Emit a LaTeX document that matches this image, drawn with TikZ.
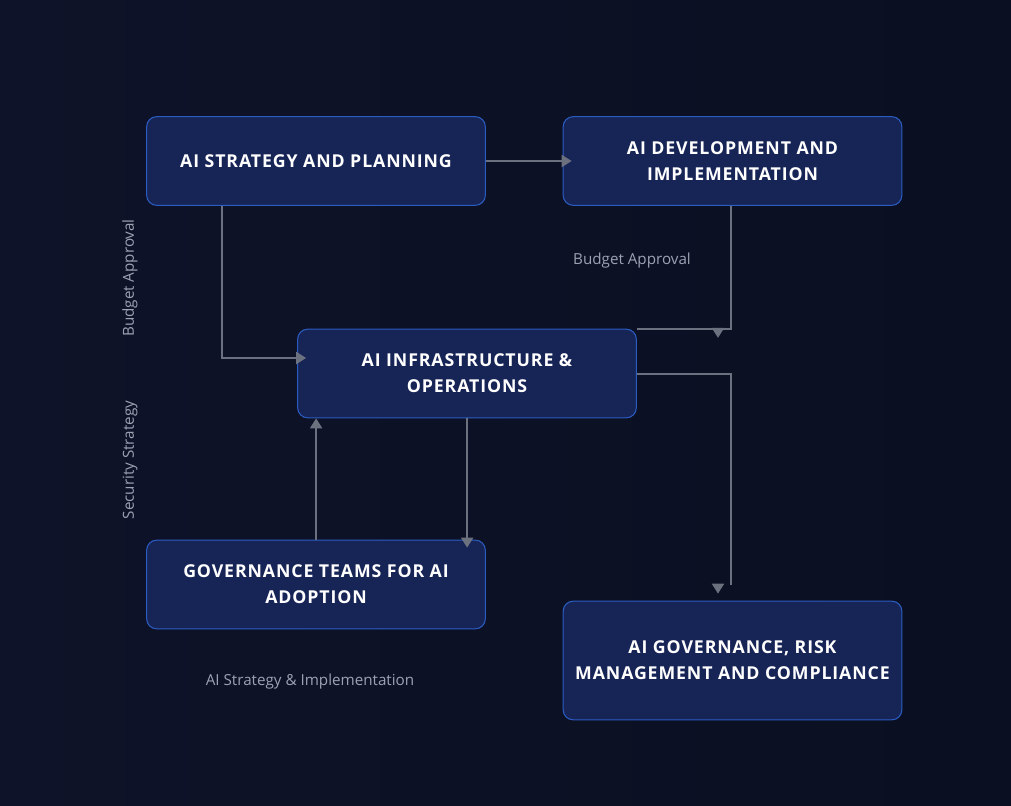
\documentclass[tikz,border=0pt]{standalone}
\usepackage{fontspec}
\setmainfont{Open Sans}
\newfontfamily\boxfont[LetterSpace=5]{Open Sans}
\usetikzlibrary{calc}
\usetikzlibrary{arrows.meta}
\definecolor{bgLeft}{HTML}{0F1329}
\definecolor{bgRight}{HTML}{0A0F21}
\definecolor{boxFill}{HTML}{172456}
\definecolor{boxLine}{HTML}{2B5CC2}
\definecolor{wireGray}{HTML}{6C717F}
\definecolor{noteGray}{HTML}{9CA2B2}
\tikzset{
  block/.style = {draw=boxLine, line width=0.8pt, fill=boxFill, rounded corners=7.5pt,
    minimum width=254pt, minimum height=#1, align=center, text=white,
    font=\boxfont\bfseries\fontsize{13.3pt}{19.5pt}\selectfont},
  block/.default = 66.5pt,
  wire/.style = {color=#1, line width=1.6pt},
  flow/.style = {color=#1, line width=1.6pt, -{Triangle[length=7.5pt, width=9pt]}},
  note/.style = {color=#1, font=\fontsize{11.4pt}{13pt}\selectfont, inner sep=0pt}
}

\begin{document}
\begin{tikzpicture}[x=0.75pt, y=-0.75pt]

    % Background
    \useasboundingbox (0,0) rectangle (1011,806);
    \fill[left color=bgLeft, right color=bgRight] (0,0) rectangle (1011,806);

    % Blocks
    \node[block] (S) at (316,161) {AI STRATEGY AND PLANNING};
    \node[block] (D) at (732.5,161) {AI DEVELOPMENT AND\\IMPLEMENTATION};
    \node[block] (I) at (467,373.5) {AI INFRASTRUCTURE \&\\OPERATIONS};
    \node[block] (G) at (316,584.5) {GOVERNANCE TEAMS FOR AI\\ADOPTION};
    \node[block=89pt] (R) at (732.5,660.5) {AI GOVERNANCE, RISK\\MANAGEMENT AND COMPLIANCE};

    % Connectors
    \draw[flow={wireGray}] (S.east) -- ($(D.west)+(9,0)$);
    \draw[flow={wireGray}] ($(S.south west)+(76,0)$) |- ($(I.west)+(9,-15.5)$);
    \draw[wire={wireGray}] ($(D.south)+(-1.5,0)$) |- (I.north east);
    \draw[flow={wireGray}] ($(D.south)+(-14.5,123)$) -- ++(0,9);
    \draw[wire={wireGray}] ($(I.east)+(0,0.5)$) -| ($(R.north)+(-1.5,-16)$);
    \draw[flow={wireGray}] ($(R.north)+(-14.5,-16)$) -- ++(0,9);
    \draw[flow={wireGray}] ($(G.north west)+(170,0)$) -- ($(I.south west)+(19,0)$);
    \draw[flow={wireGray}] ($(I.south west)+(170,0)$) -- ($(G.north west)+(321,8)$);

    % Labels
    \node[note={noteGray}] (budgetTop) at (632,261) {Budget Approval};
    \node[note={noteGray}, rotate=90] (budgetSide) at (130,278) {Budget Approval};
    \node[note={noteGray}, rotate=90] (security) at (130,460) {Security Strategy};
    \node[note={noteGray}] (stratImpl) at (310,682) {AI Strategy \& Implementation};

\end{tikzpicture}
\end{document}
